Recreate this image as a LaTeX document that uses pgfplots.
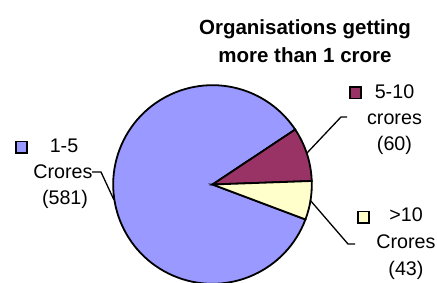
\documentclass[border=0pt]{standalone}
\usepackage{pgfplots}
\pgfplotsset{compat=1.18}
\usepackage{pgfplotstable}
\usepackage{fontspec}
\setmainfont{Liberation Sans}
\definecolor{cA}{HTML}{9999FF}
\definecolor{cB}{HTML}{993366}
\definecolor{cC}{HTML}{FFFFCC}
\pgfplotstableread{
idx value
0 581
1 60
2 43
}\piedata
\pgfplotstablegetelem{0}{value}\of\piedata\let\va\pgfplotsretval
\pgfplotstablegetelem{1}{value}\of\piedata\let\vb\pgfplotsretval
\pgfplotstablegetelem{2}{value}\of\piedata\let\vc\pgfplotsretval
\pgfmathsetmacro\tot{\va+\vb+\vc}
\pgfmathsetmacro\aS{33.6}
\pgfmathsetmacro\aB{\aS-360*(\vb/\tot)}
\pgfmathsetmacro\aC{\aB-360*(\vc/\tot)}
\pgfmathsetmacro\aA{\aC-360*(\va/\tot)}
\begin{document}%
\begin{tikzpicture}[
  lbl/.style={anchor=base, inner sep=0pt, font=\fontsize{19.7}{24}\selectfont},
  ttl/.style={anchor=base, inner sep=0pt, font=\bfseries\fontsize{20.5}{24}\selectfont},
]
\useasboundingbox (0,0) rectangle (437pt,282pt);
\begin{axis}[
  at={(0,0)}, anchor=south west,
  width=437pt, height=282pt, scale only axis,
  xmin=0, xmax=437, ymin=0, ymax=282,
  hide axis, clip=true,
]
\def\cx{212.5}\def\cy{97.5}\def\R{99.3pt}
\filldraw[fill=cA, line width=1.8pt] (axis cs:\cx,\cy) -- ++(\aC:\R) arc[start angle=\aC, end angle=\aA, radius=\R] -- cycle;
\filldraw[fill=cB, line width=1.8pt] (axis cs:\cx,\cy) -- ++(\aS:\R) arc[start angle=\aS, end angle=\aB, radius=\R] -- cycle;
\filldraw[fill=cC, line width=1.8pt] (axis cs:\cx,\cy) -- ++(\aB:\R) arc[start angle=\aB, end angle=\aC, radius=\R] -- cycle;
% leader lines
\draw[line width=1.3pt] (axis cs:307,129) -- (axis cs:341,165) -- (axis cs:347,165);
\draw[line width=1.3pt] (axis cs:310,82) -- (axis cs:348,38) -- (axis cs:355,38);
\draw[line width=1.3pt] (axis cs:92,110) -- (axis cs:101,110) -- (axis cs:114,82);
% legend keys
\draw[fill=cA, line width=1.9pt] (axis cs:16,129) rectangle (axis cs:27,140.5);
\draw[fill=cB, line width=1.9pt] (axis cs:350,183.5) rectangle (axis cs:361,195);
\draw[fill=cC, line width=1.9pt] (axis cs:358,59) rectangle (axis cs:369,70.5);
% labels
\node[lbl] at (axis cs:64,130) {1-5};
\node[lbl] at (axis cs:63,104) {Crores};
\node[lbl] at (axis cs:65,78) {(581)};
\node[lbl] at (axis cs:394.5,184) {5-10};
\node[lbl] at (axis cs:394.5,157.5) {crores};
\node[lbl] at (axis cs:394.5,132) {(60)};
\node[lbl] at (axis cs:406,60.3) {>10};
\node[lbl] at (axis cs:406,34) {Crores};
\node[lbl] at (axis cs:406,7) {(43)};
\node[ttl] at (axis cs:305,247.5) {Organisations getting};
\node[ttl] at (axis cs:305,220) {more than 1 crore};
\end{axis}
\end{tikzpicture}%
\end{document}
